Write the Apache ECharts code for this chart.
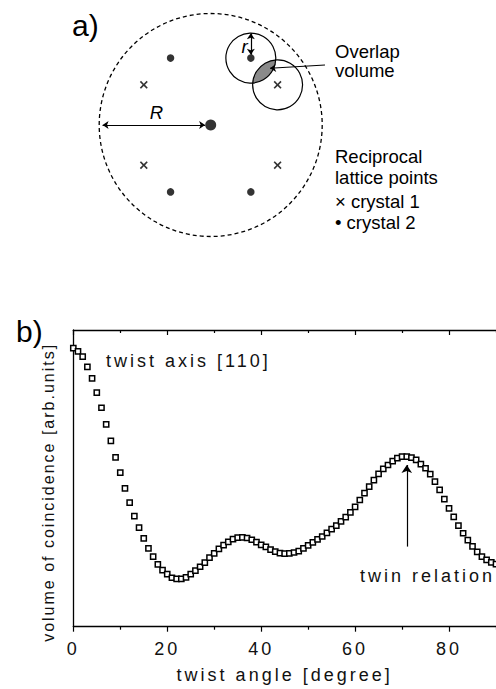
<!DOCTYPE html>
<html>
<head>
<meta charset="utf-8">
<script src="https://cdn.jsdelivr.net/npm/echarts@6/dist/echarts.min.js"></script>
<style>
  html, body { margin: 0; padding: 0; background: #fff; }
  #wrap { position: relative; width: 496px; height: 689px; overflow: hidden; }
  #panelA { position: absolute; left: 0; top: 0; width: 496px; height: 280px; }
  /* panel b is wider than the page: its plot frame runs on past the right border */
  #panelB { position: absolute; left: 0; top: 280px; width: 600px; height: 409px; }
  #panelB text { letter-spacing: 3px; }
</style>
</head>
<body>
<div id="wrap">
  <div id="panelA"></div>
  <div id="panelB"></div>
</div>
<script>
// ---- panel a): reciprocal lattice points inside the Ewald-type sphere (units of R) ----
const crystal1Points = [[0.6, 0.36], [-0.6, 0.36], [-0.6, -0.36], [0.6, -0.36]];
const crystal2Points = [[0.36, 0.6], [-0.36, 0.6], [-0.36, -0.6], [0.36, -0.6]];
const originPoint = [[0, 0]];
const sphereRadius = 1.0;      // R
const spotRadius = 0.224;      // r
// circles: [centre x, centre y, radius, dashed]
const circles = [
  [0, 0, sphereRadius, 1],
  [0.36, 0.6, spotRadius, 0],
  [0.6, 0.36, spotRadius, 0]
];
// double-headed dimension arrows (R and r)
const dimensionArrows = [
  [[-0.97, 0], [-0.05, 0]],
  [[0.36, 0.822], [0.36, 0.63]]
];
// pointer from the "Overlap volume" note to the shaded lens
const overlapPointer = [[[1.025, 0.538], [0.532, 0.509]]];

// ---- panel b): volume of coincidence vs twist angle ----
const twistAngle = [];
for (let a = 0; a <= 90; a++) twistAngle.push(a);
const coincidence = [
  93.9, 92.8, 91.0, 87.6, 83.7, 78.9, 73.8, 68.2, 62.6, 57.1,
  51.9, 46.6, 41.8, 37.3, 33.4, 29.8, 26.4, 23.6, 21.0, 19.1,
  17.7, 16.5, 16.1, 16.1, 16.6, 17.7, 18.9, 20.2, 21.6, 23.3,
  24.7, 26.2, 27.5, 28.6, 29.5, 30.0, 30.1, 29.9, 29.3, 28.5,
  27.6, 26.9, 26.0, 25.3, 24.8, 24.6, 24.7, 25.0, 25.5, 26.4,
  27.4, 28.4, 29.4, 30.4, 31.6, 32.9, 34.1, 35.5, 36.9, 38.5,
  40.4, 42.7, 45.0, 47.2, 49.4, 51.5, 53.2, 54.5, 55.8, 56.8,
  57.3, 57.3, 57.0, 56.2, 54.8, 53.4, 51.4, 48.9, 46.1, 43.0,
  39.9, 37.0, 34.1, 31.5, 29.2, 27.1, 25.2, 23.6, 22.5, 21.7,
  21.1
];
const twinArrow = { angle: 71, from: 27, to: 54.5 };
// the axis runs on past the right border of the figure (90° sits at the edge)
const xAxisMin = 0;
const xAxisMax = 100;
const xTickMajor = 20;

const FONT = '"Liberation Sans", Arial, sans-serif';

// polygon outlining the intersection of two equal circles
function lensOutline(c1, c2, r, n) {
  const mid = [(c1[0] + c2[0]) / 2, (c1[1] + c2[1]) / 2];
  const pts = [];
  [[c1, c2], [c2, c1]].forEach(function (pair) {
    const a = pair[0], b = pair[1];
    for (let k = 0; k < n; k++) {
      const t = 2 * Math.PI * k / n;
      const p = [a[0] + r * Math.cos(t), a[1] + r * Math.sin(t)];
      if (Math.hypot(p[0] - b[0], p[1] - b[1]) <= r + 1e-9) pts.push(p);
    }
  });
  pts.sort(function (p, q) {
    return Math.atan2(p[1] - mid[1], p[0] - mid[0]) - Math.atan2(q[1] - mid[1], q[0] - mid[0]);
  });
  return pts;
}

const crossPath = 'path://M0,1.5L1.5,0L5,3.5L8.5,0L10,1.5L6.5,5L10,8.5L8.5,10L5,6.5L1.5,10L0,8.5L3.5,5Z';

const chartA = echarts.init(document.getElementById('panelA'), null, { renderer: 'svg' });
chartA.setOption({
  animation: false,
  grid: { left: 76.9, top: 2.35, width: 267.6, height: 245.3 },
  xAxis: { type: 'value', min: -1.2, max: 1.2, show: false },
  yAxis: { type: 'value', min: -1.1, max: 1.1, show: false },
  series: [
    {
      type: 'custom', z: 1, silent: true,
      data: [[(circles[1][0] + circles[2][0]) / 2, (circles[1][1] + circles[2][1]) / 2]],
      renderItem: function (params, api) {
        const pts = lensOutline([circles[1][0], circles[1][1]], [circles[2][0], circles[2][1]], spotRadius, 360);
        return {
          type: 'polygon',
          shape: { points: pts.map(function (p) { return api.coord(p); }) },
          style: { fill: '#8a8a8a', stroke: null }
        };
      }
    },
    {
      type: 'custom', z: 2, silent: true,
      data: circles,
      encode: { x: 0, y: 1 },
      renderItem: function (params, api) {
        const c = api.coord([api.value(0), api.value(1)]);
        const r = api.size([api.value(2), 0])[0];
        const dashed = api.value(3) === 1;
        return {
          type: 'circle',
          shape: { cx: c[0], cy: c[1], r: r },
          style: { fill: 'none', stroke: '#000', lineWidth: dashed ? 1.3 : 1.2, lineDash: dashed ? [4, 3] : null }
        };
      }
    },
    {
      name: 'crystal 1', type: 'scatter', z: 3, silent: true,
      data: crystal1Points, symbol: crossPath, symbolSize: 8,
      itemStyle: { color: '#000' }
    },
    {
      name: 'crystal 2', type: 'scatter', z: 3, silent: true,
      data: crystal2Points, symbol: 'circle', symbolSize: 7.5,
      itemStyle: { color: '#000' }
    },
    {
      name: 'origin', type: 'scatter', z: 3, silent: true,
      data: originPoint, symbol: 'circle', symbolSize: 11,
      itemStyle: { color: '#000' }
    },
    {
      type: 'lines', coordinateSystem: 'cartesian2d', z: 4, silent: true,
      data: dimensionArrows.map(function (c) { return { coords: c }; }),
      symbol: ['arrow', 'arrow'], symbolSize: 6,
      lineStyle: { color: '#000', width: 1.2, opacity: 1 }
    },
    {
      type: 'lines', coordinateSystem: 'cartesian2d', z: 4, silent: true,
      data: overlapPointer.map(function (c) { return { coords: c }; }),
      symbol: ['none', 'arrow'], symbolSize: 6,
      lineStyle: { color: '#000', width: 1.2, opacity: 1 }
    }
  ],
  graphic: [
    { type: 'text', x: 72, y: 25, style: { text: 'a)', font: '30px ' + FONT, fill: '#000', verticalAlign: 'middle' } },
    { type: 'text', x: 156.5, y: 112.5, style: { text: 'R', font: 'italic 18.5px ' + FONT, fill: '#000', align: 'center', verticalAlign: 'middle' } },
    { type: 'text', x: 244.5, y: 46.5, style: { text: 'r', font: 'italic 18.5px ' + FONT, fill: '#000', align: 'center', verticalAlign: 'middle' } },
    { type: 'text', x: 335, y: 51, style: { text: 'Overlap', font: '18.5px ' + FONT, fill: '#000', verticalAlign: 'middle' } },
    { type: 'text', x: 335, y: 70.5, style: { text: 'volume', font: '18.5px ' + FONT, fill: '#000', verticalAlign: 'middle' } },
    { type: 'text', x: 335, y: 156.5, style: { text: 'Reciprocal', font: '18.5px ' + FONT, fill: '#000', verticalAlign: 'middle' } },
    { type: 'text', x: 335, y: 177, style: { text: 'lattice points', font: '18.5px ' + FONT, fill: '#000', verticalAlign: 'middle' } },
    { type: 'text', x: 335, y: 201.5, style: { text: '× crystal 1', font: '18.5px ' + FONT, fill: '#000', verticalAlign: 'middle' } },
    { type: 'text', x: 335, y: 222.5, style: { text: '• crystal 2', font: '18.5px ' + FONT, fill: '#000', verticalAlign: 'middle' } }
  ]
});

// px per degree on the twist-angle axis, so that 90° lands on the right border
const plotLeft = 73.3;
const pxPerDegree = (496 - plotLeft) / 90;

function angleAxis(position, inside, showLabels) {
  return {
    type: 'value', position: position, min: xAxisMin, max: xAxisMax, interval: xTickMajor,
    axisLine: { show: true, onZero: false, lineStyle: { color: '#000', width: 1.3 } },
    axisTick: { show: true, inside: inside, length: 5, lineStyle: { color: '#000', width: 1.2 } },
    minorTick: { show: true, splitNumber: 2, length: 3, lineStyle: { color: '#000', width: 1.2 } },
    splitLine: { show: false },
    axisLabel: { show: showLabels, margin: 13, fontSize: 18, color: '#111', fontFamily: FONT, showMaxLabel: false }
  };
}

const bottomAxis = angleAxis('bottom', false, true);
bottomAxis.name = 'twist angle [degree]';
bottomAxis.nameLocation = 'middle';
bottomAxis.nameGap = 39;
// centre the title under 0–90°, the visible part of the axis
bottomAxis.nameTextStyle = { fontSize: 18, color: '#111', fontFamily: FONT, padding: [0, (xAxisMax - 90) * pxPerDegree, 0, 0] };

const chartB = echarts.init(document.getElementById('panelB'), null, { renderer: 'svg' });
chartB.setOption({
  animation: false,
  grid: { left: plotLeft, width: (xAxisMax - xAxisMin) * pxPerDegree, top: 50, bottom: 62.3 },
  xAxis: [bottomAxis, angleAxis('top', true, false)],
  yAxis: {
    type: 'value', min: 0, max: 100,
    axisLine: { show: true, lineStyle: { color: '#000', width: 1.3 } },
    axisTick: { show: false }, axisLabel: { show: false }, splitLine: { show: false },
    name: 'volume of coincidence [arb.units]', nameLocation: 'middle', nameGap: 17, nameRotate: 90,
    nameTextStyle: { fontSize: 16, color: '#111', fontFamily: FONT, padding: [0, 28, 0, 0] }
  },
  series: [{
    type: 'scatter', xAxisIndex: 0, silent: true,
    data: twistAngle.map(function (a, i) { return [a, coincidence[i]]; }),
    symbol: 'rect', symbolSize: 5.2,
    itemStyle: { color: '#fff', borderColor: '#000', borderWidth: 1.5, opacity: 1 },
    markLine: {
      silent: true, symbol: ['none', 'arrow'], symbolSize: 8,
      label: { show: false },
      lineStyle: { type: 'solid', color: '#000', width: 1.2 },
      data: [[{ coord: [twinArrow.angle, twinArrow.from] }, { coord: [twinArrow.angle, twinArrow.to] }]]
    }
  }],
  graphic: [
    { type: 'text', x: 16, y: 51, style: { text: 'b)', font: '30px ' + FONT, fill: '#000', verticalAlign: 'middle' } },
    { type: 'text', x: 106, y: 80.5, style: { text: 'twist axis [110]', font: '18px ' + FONT, fill: '#111', verticalAlign: 'middle' } },
    { type: 'text', x: 360, y: 295.5, style: { text: 'twin relation', font: '18px ' + FONT, fill: '#111', verticalAlign: 'middle' } }
  ]
});

// tracking: the rotated axis title is set a little tighter, the panel letter not at all
function tuneTracking() {
  document.querySelectorAll('#panelB text').forEach(function (t) {
    const s = t.textContent;
    if (s.indexOf('volume of coincidence') === 0) t.style.letterSpacing = '2px';
    if (s === 'b)') t.style.letterSpacing = '0px';
  });
}
tuneTracking();
chartB.on('finished', tuneTracking);
</script>
</body>
</html>
